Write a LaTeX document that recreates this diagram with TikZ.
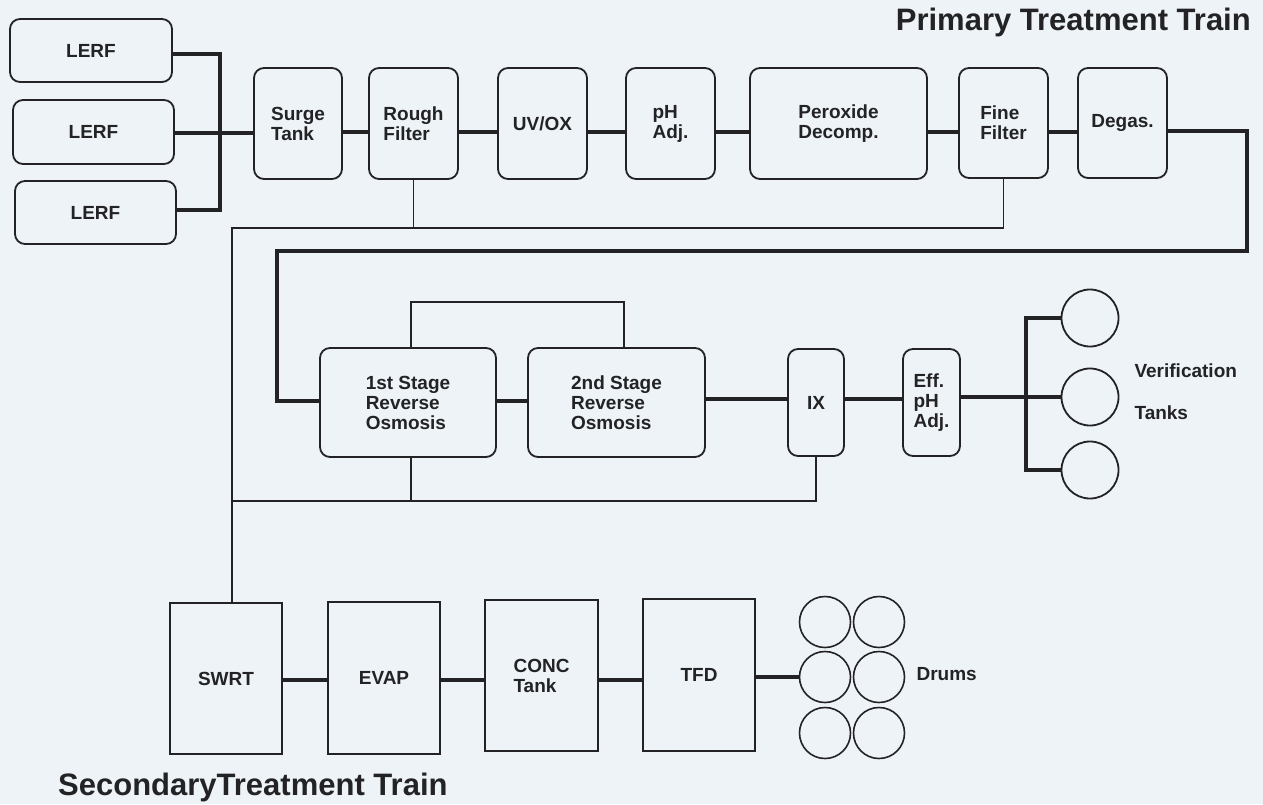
\documentclass[tikz,border=0pt]{standalone}
\usepackage{fontspec}
\setmainfont{Liberation Sans}
\usetikzlibrary{calc}
\definecolor{bgc}{RGB}{237,243,246}
\definecolor{ink}{RGB}{35,35,38}
\begin{document}
\begin{tikzpicture}[x=1pt,y=-1pt,
  every node/.style={text=ink, font=\bfseries\fontsize{19}{20}\selectfont},
  rbox/.style={draw=ink, line width=1.8pt, rounded corners=10pt, inner sep=0pt, align=left},
  sbox/.style={draw=ink, line width=1.8pt, inner sep=0pt, align=left},
  vtank/.style={draw=ink, line width=1.8pt, circle, inner sep=0pt, minimum size=57pt},
  drum/.style={draw=ink, line width=1.6pt, circle, inner sep=0pt, minimum size=51pt},
  pipe/.style={draw=ink, line width=3.6pt},
  thinpipe/.style={draw=ink, line width=1.8pt},
  title/.style={font=\bfseries\fontsize{31}{36}\selectfont, inner sep=0pt}
]
\fill[bgc] (0,0) rectangle (1263,804);
\useasboundingbox (0,0) rectangle (1263,804);

% titles
\node[title, anchor=east] (ptitle) at (1251,22) {Primary Treatment Train};
\node[title, anchor=west] (stitle) at (58,787) {SecondaryTreatment Train};

% LERF sources
\node[rbox, minimum width=162pt, minimum height=63pt] (lerf1) at (91,50.5) {LERF};
\node[rbox, minimum width=161pt, minimum height=64pt] (lerf2) at (93.5,132) {LERF};
\node[rbox, minimum width=161pt, minimum height=63pt] (lerf3) at (95.5,212.5) {LERF};

% primary row
\node[rbox, minimum width=88pt, minimum height=111pt] (surge) at (298,123.5) {Surge\\Tank};
\node[rbox, minimum width=89pt, minimum height=111pt] (rough) at (413.5,123.5) {Rough\\Filter};
\node[rbox, minimum width=89pt, minimum height=111pt] (uvox) at (542.5,123.5) {UV/OX};
\node[rbox, minimum width=89pt, minimum height=111pt] (ph) at (670.5,123.5) {pH\\Adj.};
\node[rbox, minimum width=177pt, minimum height=111pt] (perox) at (838.5,123.5) {Peroxide\\Decomp.};
\node[rbox, minimum width=89pt, minimum height=110pt] (fine) at (1003.5,123) {Fine\\Filter};
\node[rbox, minimum width=89pt, minimum height=110pt] (degas) at (1122.5,123) {Degas.};

% second row
\node[rbox, minimum width=176pt, minimum height=109pt] (ro1) at (408,402.5) {1st Stage\\Reverse\\Osmosis};
\node[rbox, minimum width=177pt, minimum height=109pt] (ro2) at (616.5,402.5) {2nd Stage\\Reverse\\Osmosis};
\node[rbox, minimum width=56pt, minimum height=107pt] (ix) at (816,402.5) {IX};
\node[rbox, minimum width=57pt, minimum height=107pt] (eff) at (931.5,402.5) {Eff.\\pH\\Adj.};
\node[vtank] (vt1) at (1090,318) {};
\node[vtank] (vt2) at (1090,397) {};
\node[vtank] (vt3) at (1090,470) {};
\node[anchor=west, align=left, font=\bfseries\fontsize{19}{42}\selectfont] (vlab) at (1131,392) {Verification\\Tanks};

% secondary row
\node[sbox, minimum width=112pt, minimum height=151pt] (swrt) at (226,678.5) {SWRT};
\node[sbox, minimum width=112pt, minimum height=152pt] (evap) at (384,678) {EVAP};
\node[sbox, minimum width=113pt, minimum height=151pt] (conc) at (541.5,675.5) {CONC\\Tank};
\node[sbox, minimum width=112pt, minimum height=152pt] (tfd) at (699,675) {TFD};
\node[drum] (d11) at (825,622) {};
\node[drum] (d12) at (879,622) {};
\node[drum] (d21) at (825,677) {};
\node[drum] (d22) at (879,677) {};
\node[drum] (d31) at (825,733) {};
\node[drum] (d32) at (879,733) {};
\node[anchor=west] (drumlab) at (913,674) {Drums};

% coordinates for connector routing
\coordinate (busTop) at (220,54);
\coordinate (busMid) at (220,133);
\coordinate (busBot) at (220,210);
\coordinate (row1) at (0,132);
\coordinate (ret1) at (1247,131);
\coordinate (ret2) at (1247,251);
\coordinate (ret3) at (277,251);
\coordinate (ret4) at (277,401);
\coordinate (row2) at (0,401);
\coordinate (row2b) at (0,399);
\coordinate (jT) at (1026,318);
\coordinate (jM) at (1026,397);
\coordinate (jB) at (1026,470);
\coordinate (row3) at (0,680);
\coordinate (sT) at (232,228);
\coordinate (rcL) at (411,302);
\coordinate (rcR) at (624,302);
\coordinate (bL) at (232,501);

% thick process lines
\draw[pipe] (lerf1.east |- busTop) -- (busTop) -- (busBot) -- (lerf3.east |- busBot);
\draw[pipe] (lerf2.east |- busMid) -- (surge.west |- busMid);
\foreach \a/\b in {surge/rough, rough/uvox, uvox/ph, ph/perox, perox/fine, fine/degas}
  \draw[pipe] (\a.east |- row1) -- (\b.west |- row1);
\draw[pipe] (degas.east |- ret1) -- (ret1) -- (ret2) -- (ret3) -- (ret4) -- (ro1.west |- ret4);
\draw[pipe] (ro1.east |- row2) -- (ro2.west |- row2);
\draw[pipe] (ro2.east |- row2b) -- (ix.west |- row2b);
\draw[pipe] (ix.east |- row2b) -- (eff.west |- row2b);
\draw[pipe] (eff.east |- jM) -- (jM) -- (vt2.west);
\draw[pipe] (vt1.west) -- (jT) -- (jB) -- (vt3.west);
\draw[pipe] (swrt.east |- row3) -- (evap.west |- row3);
\draw[pipe] (evap.east |- row3) -- (conc.west |- row3);
\draw[pipe] (conc.east |- row3) -- (tfd.west |- row3);
\draw[pipe] (tfd.east |- d21.west) -- (d21.west);

% thin secondary-waste lines
\draw[thinpipe] (rough.south) -- (rough.south |- sT);
\draw[thinpipe] (fine.south) -- (fine.south |- sT) -- (sT) -- (swrt.north -| sT);
\draw[thinpipe] (ro1.north -| rcL) -- (rcL) -- (rcR) -- (ro2.north -| rcR);
\draw[thinpipe] (ro1.south -| rcL) -- (rcL |- bL);
\draw[thinpipe] (ix.south) -- (ix.south |- bL) -- (bL);
\end{tikzpicture}
\end{document}
